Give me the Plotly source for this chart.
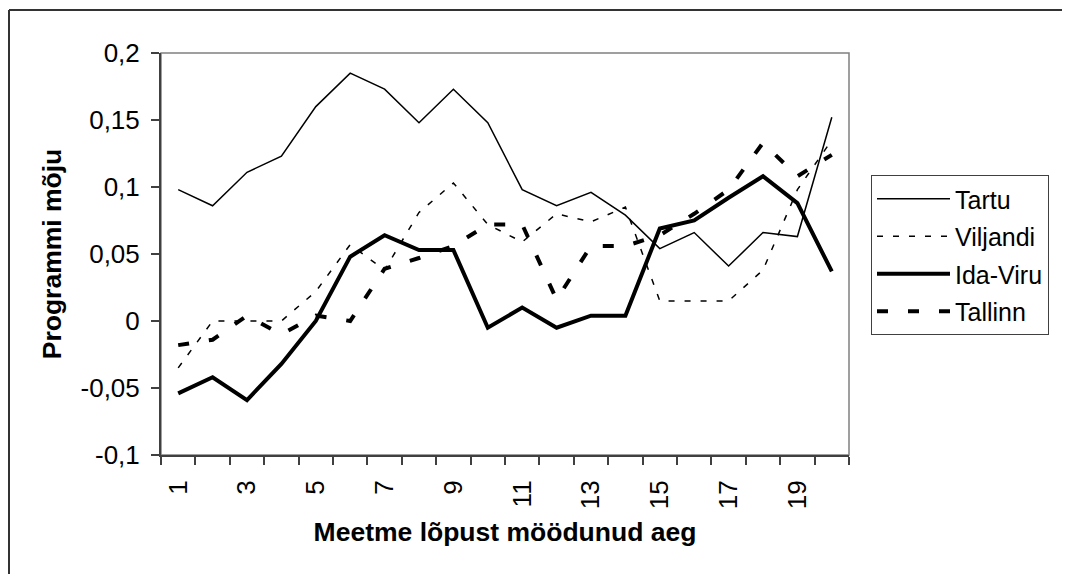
import plotly.graph_objects as go

categories = [1, 2, 3, 4, 5, 6, 7, 8, 9, 10, 11, 12, 13, 14, 15, 16, 17, 18, 19, 20]
x_labels = ["1", "3", "5", "7", "9", "11", "13", "15", "17", "19"]
x_label_pos = [1, 3, 5, 7, 9, 11, 13, 15, 17, 19]
y_ticks = [-0.1, -0.05, 0, 0.05, 0.1, 0.15, 0.2]
y_tick_text = ["-0,1", "-0,05", "0", "0,05", "0,1", "0,15", "0,2"]

tartu = [0.098, 0.086, 0.111, 0.123, 0.160, 0.185, 0.173, 0.148, 0.173, 0.148,
         0.098, 0.086, 0.096, 0.079, 0.054, 0.066, 0.041, 0.066, 0.063, 0.152]
viljandi = [-0.035, 0.000, 0.000, 0.000, 0.022, 0.057, 0.038, 0.081, 0.103, 0.072,
            0.059, 0.080, 0.074, 0.085, 0.015, 0.015, 0.015, 0.038, 0.098, 0.135]
ida_viru = [-0.054, -0.042, -0.059, -0.032, 0.000, 0.048, 0.064, 0.053, 0.053, -0.005,
            0.010, -0.005, 0.004, 0.004, 0.069, 0.075, 0.092, 0.108, 0.088, 0.037]
tallinn = [-0.018, -0.014, 0.004, -0.010, 0.004, 0.000, 0.039, 0.047, 0.056, 0.072,
           0.072, 0.016, 0.056, 0.056, 0.064, 0.080, 0.098, 0.133, 0.108, 0.124]

series_names = ["Tartu", "Viljandi", "Ida-Viru", "Tallinn"]
series_values = [tartu, viljandi, ida_viru, tallinn]
styles = [
    dict(width=1.5, dash="solid"),
    dict(width=1.5, dash="6px,10px"),
    dict(width=4, dash="solid"),
    dict(width=4, dash="11px,20px"),
]

FONT = "Liberation Sans, Arial, sans-serif"

# page body has an 8px margin, so the figure is sized/offset to compensate
W, H = 1062, 566
L, T = 153, 45
PW, PH = 688, 402

fig = go.Figure()
for name, vals, st in zip(series_names, series_values, styles):
    fig.add_trace(go.Scatter(
        x=categories, y=vals, name=name, mode="lines", legendgroup=name,
        line=dict(color="black", width=st["width"], dash=st["dash"]),
    ))

# invisible trace on second x axis to carry odd-category labels
fig.add_trace(go.Scatter(x=categories, y=tartu, xaxis="x2", mode="lines",
                         line=dict(color="rgba(0,0,0,0)"), showlegend=False,
                         hoverinfo="skip"))

frame_x = (9 - 8 - L) / PW
frame_top = 1 + (T - 2) / PH
fig_right = (W - L) / PW
fig_bottom = -(H - T - PH) / PH

fig.update_layout(
    width=W, height=H,
    margin=dict(l=L, r=W - L - PW, t=T, b=H - T - PH, autoexpand=False),
    paper_bgcolor="white", plot_bgcolor="white",
    font=dict(family=FONT, size=26, color="black"),
    showlegend=True,
    legend=dict(
        x=(871 - 8 - L) / PW, y=1 - (175 - 8 - T) / PH,
        xanchor="left", yanchor="top",
        bordercolor="#404040", borderwidth=1, bgcolor="white",
        font=dict(family=FONT, size=25, color="black"),
        tracegroupgap=2, itemwidth=73,
    ),
    xaxis=dict(
        range=[0.5, 20.5], tickmode="array",
        tickvals=[c - 0.5 for c in categories] + [20.5],
        ticktext=[""] * 21,
        ticks="outside", ticklen=8, tickwidth=1.5, tickcolor="#404040",
        showline=True, linecolor="#404040", linewidth=2,
        showgrid=False, zeroline=False,
        title=dict(text="<b>Meetme lõpust möödunud aeg</b>",
                   font=dict(family=FONT, size=26.5), standoff=53),
    ),
    xaxis2=dict(
        overlaying="x", anchor="y", side="bottom",
        range=[0.5, 20.5], tickmode="array",
        tickvals=x_label_pos, ticktext=x_labels, tickangle=-90,
        ticks="outside", ticklen=14, tickcolor="rgba(0,0,0,0)",
        showline=False, showgrid=False, zeroline=False,
        tickfont=dict(family=FONT, size=26),
    ),
    yaxis=dict(
        range=[-0.1, 0.2], tickmode="array",
        tickvals=y_ticks, ticktext=y_tick_text,
        ticks="outside", ticklen=8, tickwidth=1.5, tickcolor="#404040",
        ticklabelstandoff=6,
        showline=True, linecolor="#404040", linewidth=2,
        showgrid=False, zeroline=False,
        title=dict(text="<b>Programmi mõju</b>",
                   font=dict(family=FONT, size=26.5), standoff=11),
    ),
    shapes=[
        dict(type="rect", xref="paper", yref="paper", x0=0, x1=1, y0=0, y1=1,
             line=dict(color="#808080", width=1.5), layer="below"),
        # outer chart frame (only left and top edges fall inside the window)
        dict(type="line", xref="paper", yref="paper",
             x0=frame_x, x1=frame_x, y0=fig_bottom, y1=frame_top,
             line=dict(color="#333333", width=2), layer="below"),
        dict(type="line", xref="paper", yref="paper",
             x0=frame_x, x1=fig_right, y0=frame_top, y1=frame_top,
             line=dict(color="#333333", width=2), layer="below"),
    ],
)

fig.write_html("out.html")
